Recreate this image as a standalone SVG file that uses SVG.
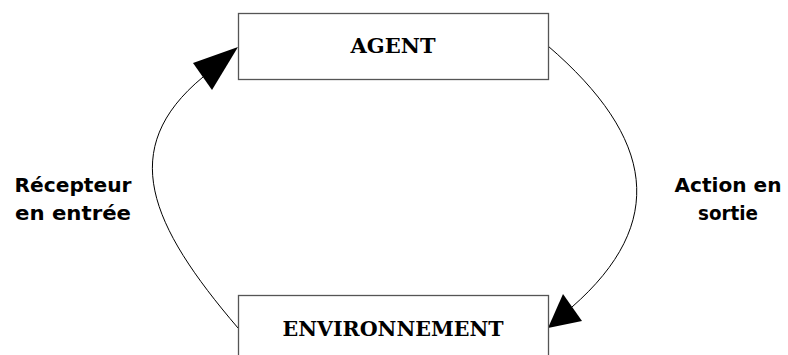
<svg xmlns="http://www.w3.org/2000/svg" width="788" height="355" viewBox="0 0 788 355">
<style>
.box{fill:#fff;stroke:#555;stroke-width:1.3}
.title{font-family:"DejaVu Serif","Liberation Serif",serif;font-weight:bold;font-size:20px;text-anchor:middle;fill:#000}
.lbl{font-family:"DejaVu Sans","Liberation Sans",sans-serif;font-weight:bold;font-size:20px;text-anchor:middle;fill:#000}
.con{fill:none;stroke:#000;stroke-width:1}
</style>
<rect width="788" height="355" fill="#fff"/>
<g id="connectors">
<path class="con" d="M238,328 C150,225 116,149 203,77"/>
<polygon points="238,47 193,63 212,90" fill="#000"/>
<path class="con" d="M548,46 C655,138 668,223 572,307"/>
<polygon points="548,328 563,294 582,321" fill="#000"/>
</g>
<g id="agent">
<rect class="box" x="238.5" y="13.5" width="310" height="66"/>
<text class="title" x="393" y="53" textLength="85" lengthAdjust="spacingAndGlyphs">AGENT</text>
</g>
<g id="environnement">
<rect class="box" x="238.5" y="295.5" width="310" height="70"/>
<text class="title" x="393" y="336" textLength="221" lengthAdjust="spacingAndGlyphs">ENVIRONNEMENT</text>
</g>
<g id="label-recepteur">
<text class="lbl" x="73" y="192" textLength="117" lengthAdjust="spacingAndGlyphs">Récepteur</text>
<text class="lbl" x="73" y="220" textLength="116" lengthAdjust="spacingAndGlyphs">en entrée</text>
</g>
<g id="label-action">
<text class="lbl" x="728" y="192" textLength="107" lengthAdjust="spacingAndGlyphs">Action en</text>
<text class="lbl" x="728" y="220" textLength="60" lengthAdjust="spacingAndGlyphs">sortie</text>
</g>
</svg>
